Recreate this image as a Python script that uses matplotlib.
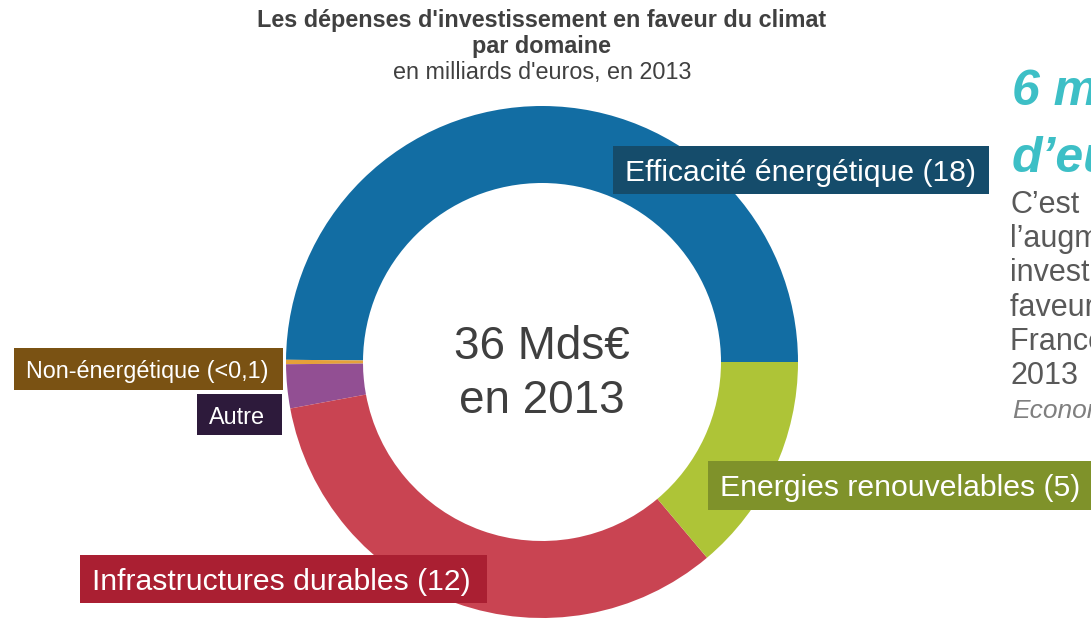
import matplotlib.pyplot as plt
from matplotlib.patches import Rectangle

plt.rcParams['font.family'] = ['Liberation Sans', 'DejaVu Sans']

# investment by domain, in billions of euros, 2013
domains = ['Efficacité énergétique', 'Non-énergétique', 'Autre',
           'Infrastructures durables', 'Energies renouvelables']
values = [18, 0.1, 1.0, 12, 5]
colors = ['#126da3', '#e5a13a', '#924f93', '#c94452', '#aec437']

# label boxes shown next to the ring
label_texts = ['Efficacité énergétique (18)', 'Non-énergétique (<0,1)', 'Autre',
               'Infrastructures durables (12)', 'Energies renouvelables (5)']
label_colors = ['#154c6b', '#7a5213', '#2d1a3b', '#aa1f32', '#7f922a']

W, H = 1091, 621
fig = plt.figure(figsize=(W / 100, H / 100), dpi=100)
ax = fig.add_axes([0, 0, 1, 1])

# donut, starting at 3 o'clock and going counterclockwise
ax.pie(values, colors=colors, radius=256, center=(542, H - 362), startangle=0,
       counterclock=True, wedgeprops=dict(width=77, edgecolor='none'))

ax.set_xlim(0, W)
ax.set_ylim(0, H)
ax.set_aspect('equal')
ax.axis('off')

# boxes: left, top, right, bottom (pixels from top-left), font size
boxes = [(613, 146, 989, 194, 21.7),
         (14, 348, 283, 390, 16.8),
         (197, 394, 282, 435, 16.8),
         (80, 555, 487, 603, 21.7),
         (708, 461, 1100, 510, 21.7)]
for (x0, y0, x1, y1, fs), txt, col in zip(boxes, label_texts, label_colors):
    ax.add_patch(Rectangle((x0, H - y1), x1 - x0, y1 - y0, facecolor=col,
                           edgecolor='none', zorder=3))
    ax.text(x0 + 12, H - (y0 + y1) / 2, txt, color='white', fontsize=fs,
            ha='left', va='center_baseline', zorder=4)

# total in the middle
ax.text(542, H - 359, '36 Mds€', fontsize=33, color='#3f3f3f', ha='center', va='baseline')
ax.text(542, H - 413, 'en 2013', fontsize=33, color='#3f3f3f', ha='center', va='baseline')

# title
ax.text(542, H - 20, "Les dépenses d'investissement en faveur du climat", fontsize=16.8,
        fontweight='bold', color='#404040', ha='center', va='center')
ax.text(542, H - 46, 'par domaine', fontsize=16.8, fontweight='bold', color='#404040',
        ha='center', va='center')
ax.text(542, H - 73, "en milliards d'euros, en 2013", fontsize=16.8, color='#404040',
        ha='center', va='center')

# side text, cut by the right edge
ax.text(1012, H - 105, '6 milliards', fontsize=36, fontweight='bold', style='italic',
        color='#3dbfc6', ha='left', va='baseline')
ax.text(1012, H - 172, 'd’euros', fontsize=36, fontweight='bold', style='italic',
        color='#3dbfc6', ha='left', va='baseline')
side_lines = ['C’est', 'l’augmentation des', 'investissements en',
              'faveur du climat en', 'France entre 2011 et', '2013']
for i, line in enumerate(side_lines):
    ax.text(1010, H - (213 + 34.2 * i), line, fontsize=22, color='#595959',
            ha='left', va='baseline')
ax.text(1012, H - 418, 'Economie', fontsize=19, style='italic', color='#7f7f7f',
        ha='left', va='baseline')

plt.savefig('out.png', dpi=100)
